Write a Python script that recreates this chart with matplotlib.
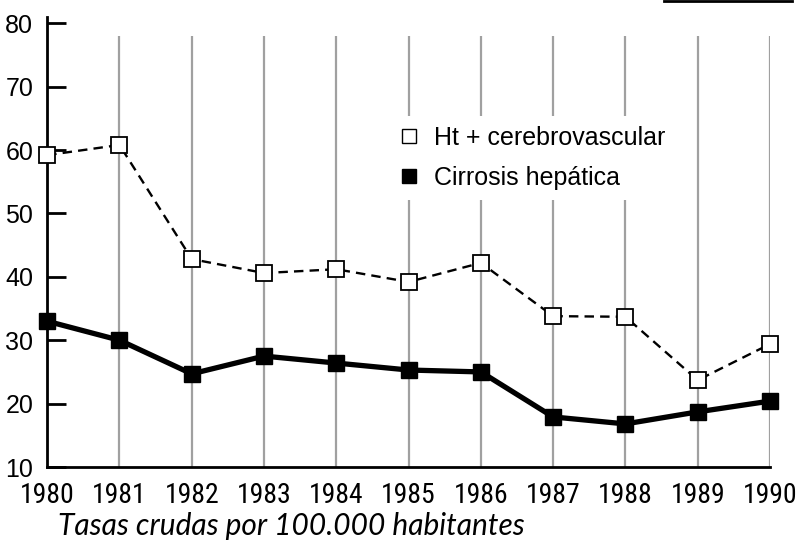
import matplotlib
matplotlib.use("Agg")
import matplotlib.pyplot as plt
from matplotlib.lines import Line2D
from matplotlib import font_manager

years = [1980, 1981, 1982, 1983, 1984, 1985, 1986, 1987, 1988, 1989, 1990]
ht_cerebro = [59.2, 60.8, 42.8, 40.6, 41.2, 39.2, 42.2, 33.8, 33.7, 23.7, 29.4]
cirrosis = [33.0, 30.0, 24.7, 27.5, 26.4, 25.3, 25.0, 17.9, 16.8, 18.7, 20.4]
yticks = [10, 20, 30, 40, 50, 60, 70, 80]
labels = ["Ht + cerebrovascular", "Cirrosis hepática"]
subtitle = "Tasas crudas por 100.000 habitantes"


def pick_condensed():
    prefs = ["LiberationSansNarrow-Regular", "RobotoCondensed-Regular",
             "DejaVuSansCondensed.ttf", "OpenSans_Condensed-Regular"]
    files = [f.fname for f in font_manager.fontManager.ttflist]
    for p in prefs:
        for fn in files:
            if p in fn:
                return fn
    for f in font_manager.fontManager.ttflist:
        if ("Condensed" in f.fname or "Narrow" in f.fname) and f.weight in (400, "normal") \
                and f.style == "normal" and "Bold" not in f.fname:
            return f.fname
    return None


cond = pick_condensed()

fig = plt.figure(figsize=(8, 5.54), dpi=100)
ax = fig.add_axes([0.059, 0.157, 0.9035, 0.801])

# vertical grey grid lines
ax.vlines(years[1:], 10, 78, colors="#a0a0a0", linewidth=1.6, zorder=1)

ax.plot(years, ht_cerebro, color="black", linestyle=(0, (4, 2.6)), linewidth=1.7,
        marker="s", markersize=12, markerfacecolor="white", markeredgecolor="black",
        markeredgewidth=1.3, clip_on=False, zorder=3)
ax.plot(years, cirrosis, color="black", linestyle="-", linewidth=3.8,
        marker="s", markersize=12, markerfacecolor="black", markeredgecolor="black",
        clip_on=False, zorder=3)

ax.set_xlim(1980, 1990)
ax.set_ylim(10, 80)
ax.set_yticks(yticks)
ax.set_xticks(years)

if cond:
    xfp = font_manager.FontProperties(fname=cond, size=20)
    ax.set_xticklabels([str(y) for y in years], fontproperties=xfp)
else:
    ax.set_xticklabels([str(y) for y in years], family="Liberation Sans", fontsize=16)

for lab in ax.get_yticklabels():
    lab.set_family("Liberation Sans")
    lab.set_fontsize(18)
ax.tick_params(axis="y", direction="in", length=14, width=2, pad=10)
ax.tick_params(axis="x", length=0, pad=11)

for s in ["top", "right"]:
    ax.spines[s].set_visible(False)
ax.spines["left"].set_linewidth(2)
ax.spines["bottom"].set_linewidth(2)
ax.spines["left"].set_bounds(10, 81)

handles = [
    Line2D([], [], linestyle="none", marker="s", markersize=10, markerfacecolor="white",
           markeredgecolor="black", markeredgewidth=1.0),
    Line2D([], [], linestyle="none", marker="s", markersize=10, markerfacecolor="black",
           markeredgecolor="black"),
]
leg = ax.legend(handles, labels, loc="upper left", bbox_to_anchor=(0.455, 0.82),
                frameon=True, facecolor="white", edgecolor="none", framealpha=1,
                prop={"family": "Liberation Sans", "size": 18},
                handlelength=0.8, handletextpad=0.6, labelspacing=0.65,
                borderpad=0.4, fancybox=False)
leg.set_zorder(2)

fig.text(0.072, 0.035, subtitle, fontsize=21.5, style="italic", family="Lato", color="black")

# scan artifact at top-right
fig.add_artist(Line2D([0.83, 0.99], [0.998, 0.998], color="black", linewidth=2,
                      transform=fig.transFigure))

fig.savefig("out.png", dpi=100, facecolor="white")
